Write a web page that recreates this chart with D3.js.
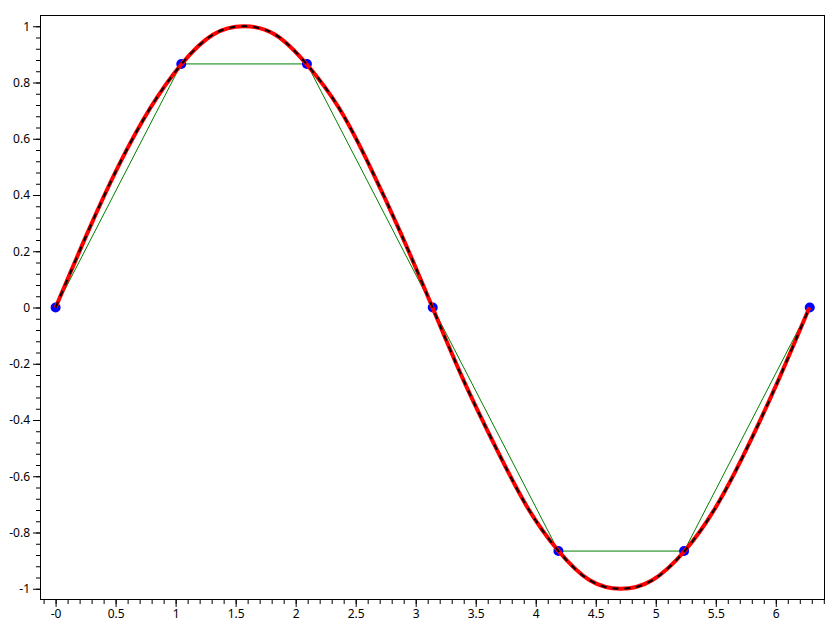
<!DOCTYPE html>
<html>
<head>
<meta charset="utf-8">
<script src="https://cdn.jsdelivr.net/npm/d3@7"></script>
<style>
  html, body { margin: 0; padding: 0; background: #fff; }
  svg { display: block; }
  text { font-family: "Segoe UI", "Noto Sans", "Open Sans", sans-serif; font-size: 12px; fill: #000; }
</style>
</head>
<body>
<svg id="chart" width="840" height="630"></svg>
<script>
// ---- data ----
const pointX = [0, 1.047, 2.094, 3.142, 4.189, 5.236, 6.283];
const pointY = [0, 0.866, 0.866, 0, -0.866, -0.866, 0];

const sineX = [0, 0.26, 0.52, 0.79, 1.05, 1.31, 1.57, 1.83, 2.09, 2.36, 2.62, 2.88, 3.14,
               3.40, 3.67, 3.93, 4.19, 4.45, 4.71, 4.97, 5.24, 5.50, 5.76, 6.02, 6.28];
const sineY = [0, 0.26, 0.5, 0.71, 0.866, 0.97, 1, 0.97, 0.866, 0.71, 0.5, 0.26, 0,
               -0.26, -0.5, -0.71, -0.866, -0.97, -1, -0.97, -0.866, -0.71, -0.5, -0.26, 0];

const xTicks = [0, 0.5, 1, 1.5, 2, 2.5, 3, 3.5, 4, 4.5, 5, 5.5, 6];
const xTickLabels = ["-0", "0.5", "1", "1.5", "2", "2.5", "3", "3.5", "4", "4.5", "5", "5.5", "6"];
const yTicks = [-1, -0.8, -0.6, -0.4, -0.2, 0, 0.2, 0.4, 0.6, 0.8, 1];
const yTickLabels = ["-1", "-0.8", "-0.6", "-0.4", "-0.2", "0", "0.2", "0.4", "0.6", "0.8", "1"];
const xMinorStep = 0.1;
const yMinorStep = 0.04;
const xDomain = [-0.13, 6.41];
const yDomain = [-1.04, 1.04];

// ---- layout ----
const pLeft = 40, pRight = 825, pTop = 15, pBottom = 600;
const svg = d3.select("#chart");

const x = d3.scaleLinear().domain(xDomain).range([pLeft, pRight]);
const y = d3.scaleLinear().domain(yDomain).range([pBottom, pTop]);

// minor ticks
const xMinor = d3.range(Math.ceil(xDomain[0] / xMinorStep), Math.floor(xDomain[1] / xMinorStep) + 1)
  .map(i => +(i * xMinorStep).toFixed(3));
const yMinor = d3.range(Math.ceil(yDomain[0] / yMinorStep + 1e-9), Math.floor(yDomain[1] / yMinorStep - 1e-9) + 1)
  .map(i => +(i * yMinorStep).toFixed(3));

const xAxisMinor = d3.axisBottom(x).tickValues(xMinor).tickSize(4).tickFormat("");
const xAxisMajor = d3.axisBottom(x).tickValues(xTicks).tickSize(7).tickPadding(2)
  .tickFormat((d, i) => xTickLabels[i]);
const yAxisMinor = d3.axisLeft(y).tickValues(yMinor).tickSize(4).tickFormat("");
const yAxisMajor = d3.axisLeft(y).tickValues(yTicks).tickSize(7).tickPadding(3)
  .tickFormat((d, i) => yTickLabels[i]);

function styleAxis(g) {
  g.select(".domain").remove();
  g.selectAll("line").attr("stroke", "#000").attr("stroke-width", 1);
  g.selectAll("text").attr("font-family", null).attr("font-size", null).style("fill", "#000");
}

svg.append("g").attr("transform", `translate(0,${pBottom})`).call(xAxisMinor).call(styleAxis);
svg.append("g").attr("transform", `translate(0,${pBottom})`).call(xAxisMajor).call(styleAxis);
svg.append("g").attr("transform", `translate(${pLeft},0)`).call(yAxisMinor).call(styleAxis);
svg.append("g").attr("transform", `translate(${pLeft},0)`).call(yAxisMajor).call(styleAxis);

// clip
svg.append("clipPath").attr("id", "clip")
  .append("rect").attr("x", pLeft).attr("y", pTop).attr("width", pRight - pLeft).attr("height", pBottom - pTop);

const plot = svg.append("g").attr("clip-path", "url(#clip)");

const pts = pointX.map((v, i) => [v, pointY[i]]);
const sine = sineX.map((v, i) => [v, sineY[i]]);
const smoothLine = d3.line().x(d => x(d[0])).y(d => y(d[1])).curve(d3.curveNatural);

// green polyline
plot.append("path")
  .datum(pts)
  .attr("fill", "none")
  .attr("stroke", "#008000")
  .attr("stroke-width", 1)
  .attr("d", d3.line().x(d => x(d[0])).y(d => y(d[1])));

// blue markers
plot.selectAll("circle.pt").data(pts).enter().append("circle")
  .attr("class", "pt")
  .attr("cx", d => x(d[0])).attr("cy", d => y(d[1]))
  .attr("r", 5).attr("fill", "#0000FF");

// red smooth curve
plot.append("path")
  .datum(sine)
  .attr("fill", "none")
  .attr("stroke", "#FF0000")
  .attr("stroke-width", 4)
  .attr("stroke-linejoin", "round")
  .attr("d", smoothLine);

// black dashed sine
plot.append("path")
  .datum(sine)
  .attr("fill", "none")
  .attr("stroke", "#000")
  .attr("stroke-width", 2)
  .attr("stroke-dasharray", "6,6")
  .attr("d", smoothLine);

// frame
svg.append("rect")
  .attr("x", pLeft + 0.5).attr("y", pTop + 0.5)
  .attr("width", pRight - pLeft - 1).attr("height", pBottom - pTop - 1)
  .attr("fill", "none").attr("stroke", "#000").attr("stroke-width", 1);
</script>
</body>
</html>
